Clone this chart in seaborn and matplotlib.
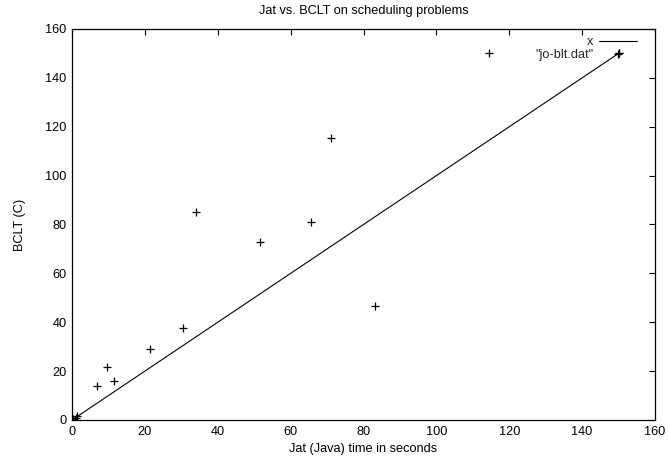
import matplotlib
matplotlib.use("Agg")
import matplotlib.pyplot as plt
import seaborn as sns
import pandas as pd

# y = x reference function
ref_x = [0, 150]
ref_y = [0, 150]

# data from "jo-blt.dat"
jat = [0.0, 0.3, 1.0, 1.5, 6.9, 9.6, 11.5, 21.4, 30.6, 33.9, 51.7, 65.5, 71.1, 83.1, 114.5, 150.0, 150.0]
bclt = [0.0, 0.5, 1.0, 1.5, 13.8, 21.6, 16.0, 29.1, 37.8, 85.2, 72.7, 80.9, 115.4, 46.6, 150.0, 150.0, 150.0]

x_ticks = [0, 20, 40, 60, 80, 100, 120, 140, 160]
y_ticks = [0, 20, 40, 60, 80, 100, 120, 140, 160]

sns.set_theme(style="white")
plt.rcParams['font.family'] = ['Liberation Sans', 'DejaVu Sans']

FS = 9.2
fig = plt.figure(figsize=(6.68, 4.62), dpi=100)
ax = fig.add_axes([72/668, 42/462, (655-72)/668, (420-29)/462])

df_line = pd.DataFrame({"x": ref_x, "y": ref_y})
df_pts = pd.DataFrame({"x": jat, "y": bclt})

sns.lineplot(data=df_line, x="x", y="y", ax=ax, color="black", linewidth=0.8, label="x")
sns.scatterplot(data=df_pts, x="x", y="y", ax=ax, marker="+", color="black", s=30,
                linewidth=0.9, label='"jo-blt.dat"', zorder=3)

ax.set_xlim(0, 160)
ax.set_ylim(0, 160)
ax.set_xticks(x_ticks)
ax.set_yticks(y_ticks)
ax.tick_params(direction="in", length=4, width=0.8, top=True, right=True,
               labelsize=FS, colors="black", pad=4)
ax.tick_params(labeltop=False, labelright=False)
for s in ax.spines.values():
    s.set_color("black")
    s.set_linewidth(0.9)

ax.set_xlabel("Jat (Java) time in seconds", fontsize=FS, color="black", labelpad=4)
ax.set_ylabel("BCLT (C)", fontsize=FS, color="black", labelpad=14)
ax.set_title("Jat vs. BCLT on scheduling problems", fontsize=FS, color="black", pad=11)

leg = ax.legend(loc="upper right", bbox_to_anchor=(0.969, 0.982), frameon=False,
                markerfirst=False, fontsize=FS, handlelength=3.0,
                borderaxespad=0.0, borderpad=0.0,
                labelspacing=0.05, handletextpad=0.4)

fig.savefig("out.png", dpi=100)
